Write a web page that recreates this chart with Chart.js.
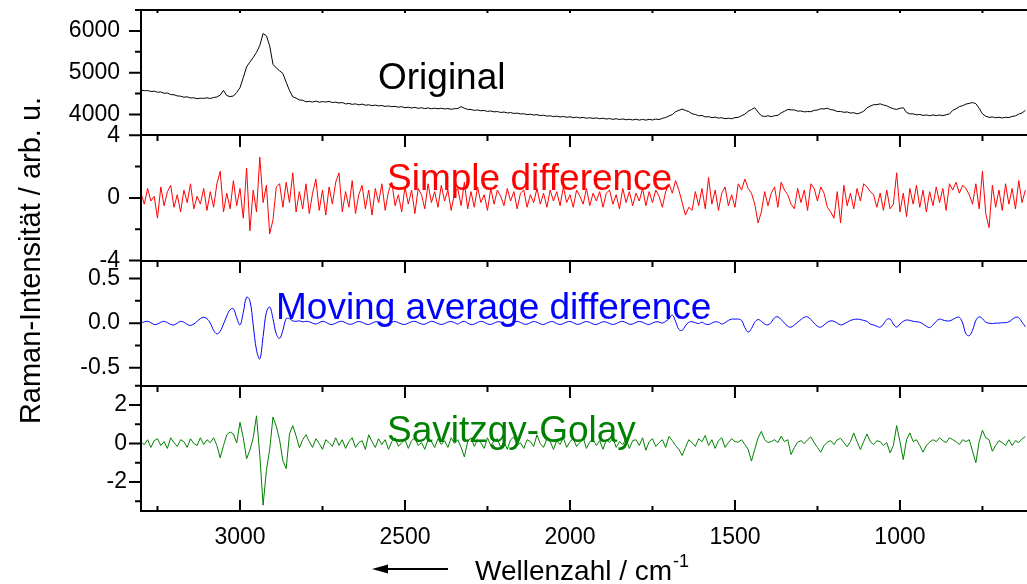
<!DOCTYPE html>
<html lang="de">
<head>
<meta charset="utf-8">
<title>Raman-Spektrum und Ableitungen</title>
<script src="https://cdn.jsdelivr.net/npm/chart.js@4.4.1/dist/chart.umd.min.js"></script>
<style>
  html, body { margin: 0; padding: 0; background: #fff; }
  #box { width: 1027px; height: 584px; position: relative; }
</style>
</head>
<body>
<div id="box"><canvas id="raman"></canvas></div>
<script>
// Wellenzahl-Raster in cm^-1 (absteigend, 10er Schritte)
const wavenumbers = [
  3300,3290,3280,3270,3260,3250,3240,3230,3220,3210,
  3200,3190,3180,3170,3160,3150,3140,3130,3120,3110,
  3100,3090,3080,3070,3060,3050,3040,3030,3020,3010,
  3000,2990,2980,2970,2960,2950,2940,2930,2920,2910,
  2900,2890,2880,2870,2860,2850,2840,2830,2820,2810,
  2800,2790,2780,2770,2760,2750,2740,2730,2720,2710,
  2700,2690,2680,2670,2660,2650,2640,2630,2620,2610,
  2600,2590,2580,2570,2560,2550,2540,2530,2520,2510,
  2500,2490,2480,2470,2460,2450,2440,2430,2420,2410,
  2400,2390,2380,2370,2360,2350,2340,2330,2320,2310,
  2300,2290,2280,2270,2260,2250,2240,2230,2220,2210,
  2200,2190,2180,2170,2160,2150,2140,2130,2120,2110,
  2100,2090,2080,2070,2060,2050,2040,2030,2020,2010,
  2000,1990,1980,1970,1960,1950,1940,1930,1920,1910,
  1900,1890,1880,1870,1860,1850,1840,1830,1820,1810,
  1800,1790,1780,1770,1760,1750,1740,1730,1720,1710,
  1700,1690,1680,1670,1660,1650,1640,1630,1620,1610,
  1600,1590,1580,1570,1560,1550,1540,1530,1520,1510,
  1500,1490,1480,1470,1460,1450,1440,1430,1420,1410,
  1400,1390,1380,1370,1360,1350,1340,1330,1320,1310,
  1300,1290,1280,1270,1260,1250,1240,1230,1220,1210,
  1200,1190,1180,1170,1160,1150,1140,1130,1120,1110,
  1100,1090,1080,1070,1060,1050,1040,1030,1020,1010,
  1000,990,980,970,960,950,940,930,920,910,
  900,890,880,870,860,850,840,830,820,810,
  800,790,780,770,760,750,740,730,720,710,
  700,690,680,670,660,650,640,630,620
];

// Originalspektrum
const original = [
  4580,4566,4572,4548,4556,4530,4536,4505,4512,4474,
  4470,4442,4436,4412,4420,4392,4398,4376,4388,4384,
  4396,4380,4404,4416,4462,4576,4450,4426,4440,4524,
  4640,4880,5140,5252,5362,5484,5650,5935,5885,5640,
  5200,5110,5044,4978,4770,4572,4420,4390,4346,4338,
  4300,4312,4296,4318,4290,4306,4296,4310,4284,4292,
  4272,4284,4250,4262,4240,4252,4228,4246,4220,4230,
  4208,4222,4204,4212,4190,4202,4184,4192,4172,4184,
  4160,4172,4154,4168,4144,4160,4138,4154,4134,4148,
  4134,4146,4130,4140,4122,4136,4140,4186,4148,4120,
  4116,4096,4106,4086,4094,4070,4082,4060,4068,4046,
  4056,4034,4044,4022,4030,4010,4016,3994,4004,3984,
  3994,3970,3980,3958,3966,3946,3958,3938,3950,3930,
  3942,3922,3934,3914,3928,3908,3918,3904,3914,3896,
  3908,3888,3900,3880,3896,3876,3890,3870,3884,3866,
  3884,3862,3880,3862,3882,3866,3888,3876,3904,3926,
  3962,3996,4064,4096,4126,4094,4066,4014,3996,3968,
  3974,3938,3946,3922,3934,3910,3920,3896,3908,3896,
  3922,3930,3966,4006,4074,4116,4160,4054,3966,3948,
  3966,3946,3968,3978,4038,4074,4118,4108,4106,4078,
  4082,4060,4068,4064,4096,4104,4134,4130,4146,4114,
  4102,4068,4070,4050,4058,4032,4040,4012,4036,4074,
  4156,4198,4232,4234,4252,4224,4206,4164,4136,4118,
  4146,4160,4046,4012,4012,3990,3998,3974,3986,3968,
  3986,3972,3984,3970,3990,4012,4096,4134,4186,4208,
  4246,4264,4284,4256,4146,4014,3956,3928,3938,3920,
  3932,3914,3930,3922,3952,3964,4006,4034,4096
];

// einfache Differenz
const simpleDiff = [
  0.3,-0.4,0.6,-0.2,0.1,-1.3,0.7,-0.5,0.4,0.8,
  -0.6,0.2,-0.9,0.5,-0.3,0.9,-0.7,0.1,-0.4,0.6,
  -0.8,0.4,-0.6,0.9,1.7,-0.9,0.3,-0.7,1.1,-0.5,
  0.6,-1.3,1.9,-2.1,0.5,-0.9,2.6,-0.3,0.8,-2.3,
  -1.4,0.7,0.9,-0.6,1.0,-0.3,1.6,-0.9,0.4,-0.7,
  0.9,-1.0,0.3,1.2,-0.8,0.5,-1.1,0.7,-0.4,1.0,
  1.6,-0.9,0.4,-0.6,1.1,-1.0,0.2,0.8,-0.7,0.5,
  -1.1,0.6,-0.3,0.9,-0.8,0.4,1.0,-0.5,0.2,-0.9,
  0.7,-0.4,0.5,-1.0,0.6,0.2,-0.7,0.9,-0.3,0.4,
  -0.6,0.8,-0.2,0.5,-0.8,0.3,0.6,-0.5,1.0,-0.7,
  0.4,-0.6,0.7,-0.3,0.2,-0.8,0.6,-0.4,0.5,0.1,
  -0.5,0.6,-0.2,0.4,-0.7,0.3,0.5,-0.6,0.2,-0.3,
  0.6,-0.4,0.3,-0.6,0.5,-0.2,0.4,-0.5,0.7,-0.3,
  0.2,-0.6,0.5,0.1,-0.4,0.6,-0.5,0.3,-0.2,0.4,
  -0.6,0.3,0.5,-0.4,0.2,-0.7,0.6,-0.3,0.4,-0.5,
  0.3,-0.2,0.6,-0.5,0.4,-0.3,0.5,0.1,-0.6,0.4,
  0.9,0.3,1.1,0.5,-0.3,-1.1,-0.6,-0.8,0.4,-0.5,
  0.6,-0.7,1.3,-0.4,0.5,-0.8,0.3,0.7,-0.5,0.2,
  -0.6,0.9,0.5,1.2,0.6,0.3,-0.4,-1.6,-0.9,0.4,
  -0.5,0.3,0.7,-0.6,1.0,0.5,0.2,-0.4,-0.7,0.6,
  -0.3,0.5,-0.8,0.9,0.6,-0.2,0.7,0.3,-0.6,-0.9,
  -1.3,0.4,-1.6,0.8,-0.5,0.3,-0.7,0.6,-0.2,0.9,
  0.7,0.4,0.2,-0.6,0.3,-0.8,0.5,-0.7,-0.4,1.6,
  -0.9,0.3,-1.2,0.6,-0.4,0.8,-0.6,0.5,-0.9,0.4,
  -0.5,0.7,-0.3,0.6,-0.8,0.9,0.5,1.0,0.3,0.8,
  0.6,0.2,-0.4,0.9,-0.7,1.7,-1.0,-1.9,0.8,-0.6,
  0.5,-0.8,0.9,-0.4,0.6,-0.7,1.1,-0.3,0.5
];

// Differenz nach gleitendem Mittelwert
const movingAvgDiff = [
  0.0,0.015,0.02,0.005,-0.015,-0.01,0.01,0.02,0.005,-0.015,
  -0.02,0.0,0.02,0.01,-0.015,-0.025,-0.01,0.02,0.05,0.065,
  0.05,0.0,-0.08,-0.12,-0.09,-0.01,0.08,0.15,0.16,0.06,
  -0.02,0.12,0.29,0.25,-0.02,-0.3,-0.4,-0.15,0.12,0.18,
  0.05,-0.12,-0.17,-0.08,0.05,0.05,0.025,0.02,0.025,0.015,
  0.02,0.015,0.0,-0.01,0.005,0.02,0.01,-0.01,-0.015,0.0,
  0.015,0.02,0.005,-0.012,-0.01,0.008,0.018,0.01,-0.008,-0.015,
  0.0,0.015,0.012,-0.005,-0.015,-0.005,0.01,0.018,0.005,-0.01,
  -0.015,0.0,0.015,0.02,0.005,-0.01,-0.012,0.005,0.02,0.012,
  -0.005,-0.015,-0.005,0.012,0.018,0.005,-0.01,0.01,0.02,0.0,
  -0.015,-0.01,0.008,0.02,0.01,-0.008,-0.015,0.0,0.015,0.012,
  -0.005,-0.015,-0.008,0.01,0.02,0.008,-0.01,-0.012,0.005,0.018,
  0.01,-0.008,-0.015,0.0,0.015,0.015,-0.005,-0.015,-0.005,0.012,
  0.018,0.005,-0.012,-0.01,0.008,0.018,0.008,-0.01,-0.015,0.0,
  0.015,0.012,-0.005,-0.015,-0.005,0.012,0.02,0.005,-0.012,-0.01,
  0.008,0.018,0.01,-0.008,-0.015,0.0,0.015,0.012,0.0,0.02,
  0.05,0.09,0.02,-0.07,-0.08,-0.03,0.01,0.015,0.005,-0.005,
  0.01,-0.01,-0.015,0.0,0.015,0.01,-0.01,0.005,0.03,0.045,
  0.045,0.045,0.03,-0.05,-0.1,-0.06,0.01,0.04,0.02,-0.01,
  -0.02,0.01,0.06,0.07,0.04,0.0,-0.035,-0.045,-0.02,0.01,
  0.04,0.065,0.07,0.04,0.0,-0.035,-0.045,-0.02,0.01,0.025,
  0.02,0.0,-0.02,-0.01,0.01,0.03,0.04,0.045,0.04,0.03,
  0.02,-0.01,-0.02,-0.035,-0.045,-0.01,0.04,0.045,-0.01,-0.045,
  -0.01,0.02,0.035,0.03,0.02,0.015,0.01,-0.01,-0.035,-0.05,
  -0.02,0.02,0.045,0.035,0.025,0.025,0.04,0.06,0.065,0.0,
  -0.12,-0.14,-0.08,0.03,0.07,0.05,0.01,0.0,-0.005,0.0,
  0.0,0.005,0.005,0.015,0.04,0.065,0.06,0.01,-0.04
];

// Savitzky-Golay-Ableitung
const savGolay = [
  0.07,-0.05,0.2,-0.2,0.15,0.25,-0.1,0.1,-0.25,0.3,
  0.05,-0.15,0.2,0.1,-0.2,0.25,0.0,-0.1,0.3,-0.05,
  0.2,0.05,0.3,-0.1,-0.74,-0.1,0.46,0.6,0.5,0.03,
  1.1,0.3,-0.79,-0.35,0.3,1.44,-0.6,-3.2,-1.4,-0.3,
  1.38,0.9,0.2,-0.9,-1.3,0.5,0.93,0.4,-0.22,0.2,
  0.46,0.1,-0.2,0.25,0.0,-0.3,0.2,0.05,-0.15,0.3,
  -0.1,0.2,-0.25,0.1,0.3,-0.2,0.05,0.15,-0.3,0.46,
  0.1,-0.2,0.25,-0.05,0.2,-0.3,0.1,0.3,-0.15,0.05,
  0.2,-0.25,0.15,0.3,-0.1,0.05,-0.3,0.2,0.1,-0.2,
  0.25,-0.05,0.15,-0.2,0.3,0.0,0.2,-0.2,-0.69,0.1,
  0.3,-0.15,0.2,0.05,-0.25,0.3,-0.1,0.15,0.25,-0.2,
  0.1,-0.3,0.2,0.35,-0.1,0.05,-0.25,0.2,0.1,-0.15,
  0.45,0.0,-0.2,0.25,0.1,-0.3,0.15,-0.05,0.3,-0.2,
  0.1,0.25,-0.15,0.05,0.3,-0.25,0.1,0.2,-0.1,0.15,
  -0.3,0.2,0.05,0.3,-0.2,0.1,-0.05,0.25,-0.25,0.15,
  0.2,-0.1,0.3,-0.35,0.1,0.25,-0.15,0.05,0.2,-0.2,
  0.37,0.15,-0.1,-0.3,-0.62,-0.2,0.2,0.05,-0.15,0.25,
  0.1,0.42,-0.1,0.2,-0.25,0.15,0.3,-0.2,0.05,0.25,
  0.1,0.07,0.2,-0.05,-0.3,-0.91,-0.3,0.3,0.63,0.2,
  0.05,0.1,0.2,0.05,0.38,0.1,0.2,-0.57,-0.2,0.07,
  0.15,0.0,0.2,0.35,0.05,-0.2,-0.45,-0.1,0.07,0.15,
  -0.05,0.2,0.27,0.05,-0.17,0.1,0.55,0.1,-0.31,0.1,
  0.5,0.1,-0.05,0.15,0.1,-0.1,0.05,-0.48,-0.1,0.93,
  0.1,-0.83,0.2,0.55,0.1,0.2,-0.1,-0.45,-0.1,0.07,
  0.2,0.1,0.3,0.15,0.05,0.3,0.2,0.1,-0.05,0.2,
  0.1,0.2,-0.4,-1.0,0.1,0.69,0.3,0.2,-0.4,-0.1,
  0.15,0.05,-0.1,0.2,-0.1,0.15,0.05,0.25,0.36
];

// Ticks (Haupt- und Nebenstriche)
const xTicks = [3000, 2500, 2000, 1500, 1000];
const xMinorTicks = [3250, 2750, 2250, 1750, 1250, 750];
const origTicks = [4000, 5000, 6000];
const origMinor = [3500, 4500, 5500, 6500];
const diffTicks = [-4, 0, 4];
const diffMinor = [-2, 2];
const movTicks = [-0.5, 0, 0.5];
const movMinor = [-0.25, 0.25];
const sgTicks = [-2, 0, 2];
const sgMinor = [-3, -1, 1, 3];

const FONT = "'Liberation Sans', Arial, Helvetica, sans-serif";
Chart.defaults.font.family = FONT;
Chart.defaults.color = '#000';

const toPoints = ys => wavenumbers.map((x, i) => ({x: x, y: ys[i]}));

// ein Panel = eine gestapelte y-Achse
function panelAxis(min, max, tickVals, weight, padding, fmt) {
  return {
    type: 'linear',
    position: 'left',
    stack: 'panels',
    stackWeight: 1,
    weight: weight,
    min: min,
    max: max,
    afterBuildTicks: s => { s.ticks = tickVals.map(v => ({value: v})); },
    afterFit: s => { s.width = 141; s.paddingTop = 0; s.paddingBottom = 0; },
    grid: {display: false, drawTicks: false},
    border: {display: false},
    ticks: {font: {size: 23}, color: '#000', padding: padding, callback: fmt || (v => String(v))}
  };
}

const panels = [
  {id: 'yOrig', major: origTicks, minor: origMinor},
  {id: 'yDiff', major: diffTicks, minor: diffMinor},
  {id: 'yMov', major: movTicks, minor: movMinor},
  {id: 'ySg', major: sgTicks, minor: sgMinor}
];

const panelTitles = [
  {text: 'Original', color: '#000000', x: 378, y: 89},
  {text: 'Simple difference', color: '#ff0000', x: 387, y: 190},
  {text: 'Moving average difference', color: '#0000ff', x: 276, y: 319},
  {text: 'Savitzgy-Golay', color: '#008000', x: 387, y: 442}
];

// Rahmen, Trennlinien und Tickstriche
const framePlugin = {
  id: 'frame',
  afterDraw(chart) {
    const {ctx, chartArea: area, scales} = chart;
    const xs = scales.x;
    const L = area.left, R = area.right;
    const seg = (x1, y1, x2, y2) => { ctx.moveTo(x1, y1); ctx.lineTo(x2, y2); };
    ctx.save();
    ctx.strokeStyle = '#000';
    ctx.lineWidth = 2;
    ctx.beginPath();
    seg(L, area.top - 1, L, area.bottom + 1);
    seg(L - 1, area.top, R, area.top);
    xTicks.concat(xMinorTicks).forEach(v => {
      const px = xs.getPixelForValue(v);
      seg(px, area.top, px, area.top + 3);
    });
    panels.forEach((p, i) => {
      const s = scales[p.id];
      const yb = Math.round(s.bottom);
      const last = i === panels.length - 1;
      seg(L - 1, yb, R, yb);
      xTicks.forEach(v => {
        const px = xs.getPixelForValue(v);
        seg(px, yb, px, last ? yb - 11 : yb + 12);
      });
      xMinorTicks.forEach(v => {
        const px = xs.getPixelForValue(v);
        seg(px, yb, px, last ? yb - 5 : yb + 6);
      });
      p.major.forEach(v => { const py = s.getPixelForValue(v); seg(L - 12, py, L, py); });
      p.minor.forEach(v => { const py = s.getPixelForValue(v); seg(L - 6, py, L, py); });
    });
    ctx.stroke();
    ctx.restore();
  }
};

// Beschriftungen: Panel-Titel, Achsentitel, Pfeil
const textPlugin = {
  id: 'texts',
  afterDraw(chart) {
    const ctx = chart.ctx;
    const area = chart.chartArea;
    ctx.save();
    ctx.textBaseline = 'alphabetic';
    ctx.textAlign = 'left';
    ctx.font = '37px ' + FONT;
    panelTitles.forEach(t => {
      ctx.fillStyle = t.color;
      ctx.fillText(t.text, t.x, t.y);
    });

    ctx.fillStyle = '#000';
    // y-Achsentitel
    ctx.save();
    ctx.translate(40, (area.top + area.bottom) / 2);
    ctx.rotate(-Math.PI / 2);
    ctx.textAlign = 'center';
    ctx.font = '29px ' + FONT;
    ctx.fillText('Raman-Intensität / arb. u.', 0, 0);
    ctx.restore();

    // x-Achsentitel mit Hochzahl
    ctx.font = '28px ' + FONT;
    const label = 'Wellenzahl / cm';
    ctx.fillText(label, 475, 580);
    const w = ctx.measureText(label).width;
    ctx.font = '18px ' + FONT;
    ctx.fillText('-1', 475 + w + 1, 567);

    // Pfeil nach links
    ctx.strokeStyle = '#000';
    ctx.lineWidth = 2;
    ctx.beginPath();
    ctx.moveTo(448, 569);
    ctx.lineTo(384, 569);
    ctx.stroke();
    ctx.beginPath();
    ctx.moveTo(372, 569);
    ctx.lineTo(388, 564.5);
    ctx.lineTo(388, 573.5);
    ctx.closePath();
    ctx.fill();
    ctx.restore();
  }
};

const line = (data, axis, color, tension) => ({
  data: toPoints(data),
  yAxisID: axis,
  borderColor: color,
  borderWidth: 1,
  pointRadius: 0,
  tension: tension || 0,
  fill: false
});

new Chart(document.getElementById('raman'), {
  type: 'line',
  data: {
    datasets: [
      line(original, 'yOrig', '#000000'),
      line(simpleDiff, 'yDiff', '#ff0000'),
      line(movingAvgDiff, 'yMov', '#0000ff', 0.4),
      line(savGolay, 'ySg', '#008000')
    ]
  },
  options: {
    responsive: true,
    maintainAspectRatio: false,
    animation: false,
    events: [],
    layout: {padding: {top: 10, right: 0, bottom: 0, left: 0}},
    plugins: {legend: {display: false}, tooltip: {enabled: false}},
    scales: {
      x: {
        type: 'linear',
        reverse: true,
        min: 615,
        max: 3300,
        afterBuildTicks: s => { s.ticks = xTicks.map(v => ({value: v})); },
        afterFit: s => { s.height = 73; s.paddingLeft = 0; s.paddingRight = 0; },
        grid: {display: false, drawTicks: false},
        border: {display: false},
        ticks: {font: {size: 23}, color: '#000', padding: 13, maxRotation: 0, autoSkip: false, callback: v => String(v)}
      },
      yOrig: panelAxis(3500, 6500, origTicks, 4, 21),
      yDiff: panelAxis(-4, 4, diffTicks, 3, 21),
      yMov: panelAxis(-0.7, 0.7, movTicks, 2, 21, v => v.toFixed(1)),
      ySg: panelAxis(-3.5, 3, sgTicks, 1, 14)
    }
  },
  plugins: [framePlugin, textPlugin]
});
</script>
</body>
</html>
